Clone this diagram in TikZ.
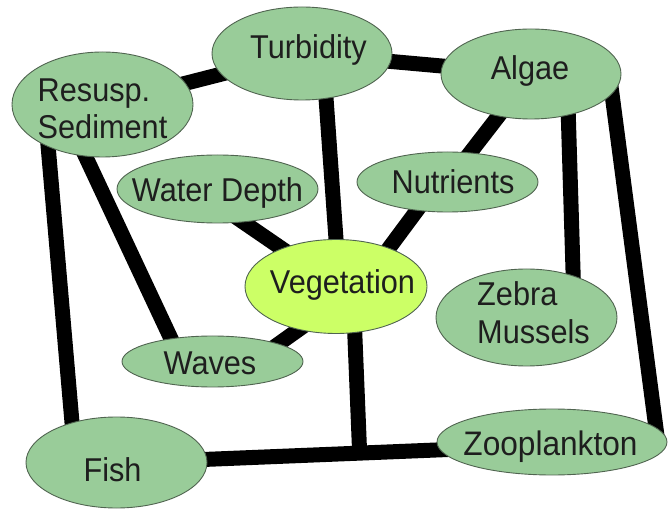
\documentclass[tikz,border=0pt]{standalone}
\usepackage{fontspec}
\setmainfont[FakeStretch=0.93]{Liberation Sans}
\usetikzlibrary{shapes.geometric,calc,backgrounds}
\definecolor{nodegreen}{RGB}{153,204,153}
\definecolor{veggreen}{RGB}{204,255,102}
\definecolor{rimgreen}{RGB}{80,100,80}
\definecolor{txt}{RGB}{30,30,30}
\begin{document}
\begin{tikzpicture}[x=1pt,y=-1pt,
  bub/.style={ellipse, draw=rimgreen, line width=0.9pt, fill=nodegreen, inner sep=0pt},
  lbl/.style={text=txt, inner sep=0pt, anchor=base, font=\fontsize{33}{37}\selectfont},
  link/.style={line width=15pt, black, shorten <=-10pt, shorten >=-10pt}]
\useasboundingbox (0,0) rectangle (672,510);
% ellipses
\node[bub, minimum width=180pt, minimum height=93pt] (turb) at (302,53.5) {};
\node[bub, minimum width=181pt, minimum height=105pt] (res) at (102.5,104.5) {};
\node[bub, minimum width=180pt, minimum height=90pt] (algae) at (531,74) {};
\node[bub, minimum width=201pt, minimum height=68pt] (wd) at (217.5,189) {};
\node[bub, minimum width=181pt, minimum height=60pt] (nut) at (447.5,182) {};
\node[bub, fill=veggreen, minimum width=182pt, minimum height=94pt] (veg) at (336,286.5) {};
\node[bub, minimum width=181pt, minimum height=51pt] (waves) at (212.5,361.5) {};
\node[bub, minimum width=181pt, minimum height=91pt] (fish) at (116.5,462.5) {};
\node[bub, minimum width=181pt, minimum height=97pt] (zebra) at (526.5,317.5) {};
\node[bub, minimum width=230pt, minimum height=66pt] (zoo) at (552,442) {};
% texts
\node[lbl] (tturb) at (308.5,59) {Turbidity};
\node[lbl, anchor=base west] (tres1) at (37.5,101.7) {Resusp.};
\node[lbl, anchor=base west] (tres2) at (37.5,139) {Sediment};
\node[lbl] (talgae) at (530,80) {Algae};
\node[lbl] (twd) at (217.5,201.7) {Water Depth};
\node[lbl] (tnut) at (453,193.3) {Nutrients};
\node[lbl] (tveg) at (342.5,293.3) {Vegetation};
\node[lbl] (twaves) at (210,375) {Waves};
\node[lbl] (tfish) at (112.5,481.7) {Fish};
\node[lbl, anchor=base west] (tzeb1) at (477,306) {Zebra};
\node[lbl, anchor=base west] (tzeb2) at (477,343.3) {Mussels};
\node[lbl, font=\fontsize{34}{38}\selectfont] (tzoo) at (550.5,455) {Zooplankton};
% connectors
\coordinate (j) at ($(fish.2)!(veg.-68)!(zoo.-176)$);
\begin{pgfonlayer}{background}
\draw[link] (res) -- (turb);
\draw[link] (turb) -- (algae);
\draw[link] (turb.-62) -- (veg.90);
\draw[link] (algae) -- (nut);
\draw[link] (nut.-137) -- (veg.36);
\draw[link] (wd.-52) -- (veg.145);
\draw[link] (waves.15) -- (veg.-131);
\draw[link] (res.-108) -- (waves.151);
\draw[link] (res.-142) -- (fish.138);
\draw[link] (algae.-48) -- (zebra.42);
\draw[link] (algae.-14) -- (zoo.8);
\draw[link] (fish.2) -- (zoo.-176);
\draw[link, shorten >=0pt] (veg.-68) -- (j);
\end{pgfonlayer}
\end{tikzpicture}
\end{document}
